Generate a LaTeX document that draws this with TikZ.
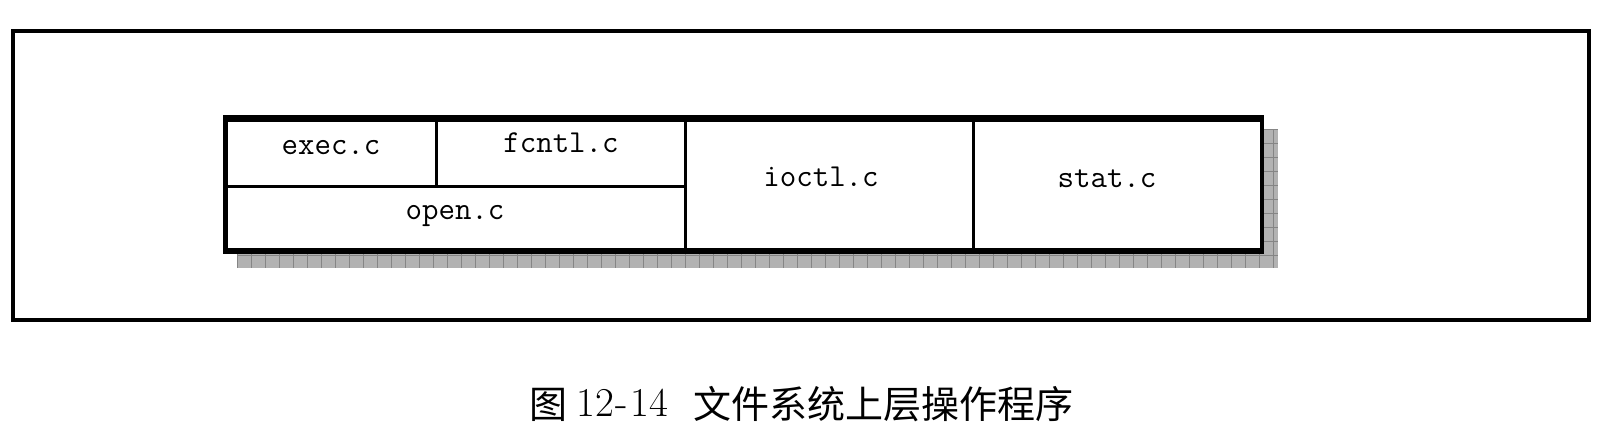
\documentclass[tikz,border=0pt]{standalone}
\usepackage{fontspec}
\newfontfamily\cjk{Noto Sans CJK SC}
\begin{document}
\begin{tikzpicture}[x=1pt,y=-1pt,
  lbl/.style={font=\fontsize{32}{32}\selectfont\ttfamily, inner sep=0pt, anchor=base},
  divider/.style={line width=3pt},
  captext/.style={inner sep=0pt, anchor=base west}]
\useasboundingbox (0,0) rectangle (1600,437);
% outer frame
\draw[line width=3.5pt] (13,31) rectangle (1589,320);
% shadow
\fill[black!30] (237,129) rectangle (1278,268);
\begin{scope}
\clip (237,129) rectangle (1278,268);
\foreach \x in {237,251,...,1280} \draw[black!48, line width=1pt] (\x,129) -- (\x,268);
\foreach \y in {129,143,...,270} \draw[black!48, line width=1pt] (237,\y) -- (1278,\y);
\end{scope}
% main box
\fill[black] (223,115) rectangle (1264,254);
\fill[white] (227.5,122) rectangle (1259.5,248);
\draw[divider] (436.5,122) -- (436.5,186.5);
\draw[divider] (227.5,186.5) -- (685.5,186.5);
\draw[divider] (685.5,122) -- (685.5,248);
\draw[divider] (973.5,122) -- (973.5,248);
% labels
\node[lbl] (exec) at (331,154) {exec.c};
\node[lbl] (fcntl) at (561,152) {fcntl.c};
\node[lbl] (open) at (455,219) {open.c};
\node[lbl] (ioctl) at (821,186) {ioctl.c};
\node[lbl] (stat) at (1107,187) {stat.c};
% caption
\node[captext, font=\fontsize{38}{38}\selectfont\cjk] (fig) at (529,418) {图};
\node[captext, font=\fontsize{41}{41}\selectfont] (num) at (576,416.7) {12\kern2pt-\kern2pt14};
\node[captext, font=\fontsize{38}{38}\selectfont\cjk] (title) at (693,418) {文件系统上层操作程序};
\end{tikzpicture}
\end{document}
